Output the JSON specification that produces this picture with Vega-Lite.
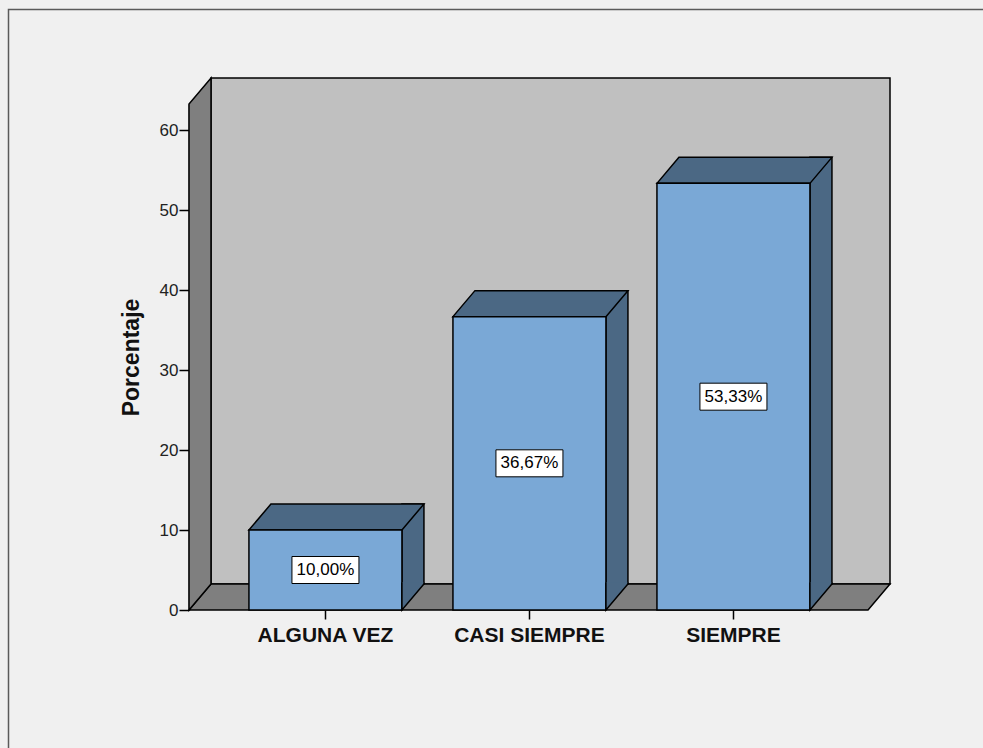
{
  "$schema": "https://vega.github.io/schema/vega-lite/v6.json",
  "width": 679,
  "height": 506,
  "autosize": {"type": "none"},
  "padding": {"left": 189, "top": 104, "right": 115, "bottom": 138},
  "background": "#f0f0f0",
  "config": {"view": {"stroke": null}, "font": "Liberation Sans"},
  "data": {
    "values": [
      {"categoria": "ALGUNA VEZ", "porcentaje": 10.00, "etiqueta": "10,00%"},
      {"categoria": "CASI SIEMPRE", "porcentaje": 36.67, "etiqueta": "36,67%"},
      {"categoria": "SIEMPRE", "porcentaje": 53.33, "etiqueta": "53,33%"}
    ]
  },
  "resolve": {"scale": {"x": "independent", "y": "independent"}},
  "layer": [
    {
      "data": {"values": [{"marco": "marco"}]},
      "encoding": {
        "x": {"datum": 0, "type": "quantitative", "scale": {"domain": [0, 1], "nice": false, "zero": false}, "axis": null},
        "y": {"datum": 0, "type": "quantitative", "scale": {"domain": [0, 63.25], "nice": false}, "axis": null}
      },
      "layer": [
        {
          "mark": {"type": "rect", "filled": false, "stroke": "#5a5a5a", "strokeWidth": 1.5, "xOffset": -180.5, "x2Offset": 300, "yOffset": -94.5, "y2Offset": 300},
          "encoding": {"x2": {"datum": 1}, "y": {"datum": 63.25, "type": "quantitative"}, "y2": {"datum": 0}}
        },
        {
          "mark": {"type": "rect", "fill": "#c0c0c0", "stroke": "#000000", "strokeWidth": 1.5, "xOffset": 22, "x2Offset": 22, "yOffset": -26, "y2Offset": -26},
          "encoding": {"x2": {"datum": 1}, "y": {"datum": 63.25, "type": "quantitative"}, "y2": {"datum": 0}}
        },
        {
          "mark": {"type": "point", "shape": "M0,0 L679,0 L701,-26 L22,-26 Z", "size": 4, "filled": true, "fill": "#7f7f7f", "stroke": "#000000", "strokeWidth": 1.5, "opacity": 1}
        },
        {
          "mark": {"type": "point", "shape": "M0,0 L22,-26 L22,-532 L0,-506 Z", "size": 4, "filled": true, "fill": "#7f7f7f", "stroke": "#000000", "strokeWidth": 1.5, "opacity": 1}
        }
      ]
    },
    {
      "encoding": {
        "x": {
          "field": "categoria", "type": "nominal", "sort": null,
          "scale": {"type": "band", "paddingInner": 0.25, "paddingOuter": 0.2892, "align": 0.508},
          "axis": {"title": null, "domain": false, "ticks": true, "tickColor": "#000000", "tickSize": 9, "tickWidth": 1.5, "labelFontSize": 21, "labelFontWeight": "bold", "labelColor": "#111111", "labelPadding": 5, "labelFont": "Liberation Sans", "labelAngle": 0}
        },
        "y": {
          "field": "porcentaje", "type": "quantitative",
          "scale": {"domain": [0, 63.25], "nice": false},
          "axis": {"values": [0, 10, 20, 30, 40, 50, 60], "title": "Porcentaje", "titleFont": "Liberation Sans", "titleFontSize": 23, "titleFontWeight": "bold", "titleColor": "#111111", "titlePadding": 16, "labelFont": "Liberation Sans", "labelFontSize": 17, "labelColor": "#222222", "labelPadding": 1, "tickSize": 10, "tickColor": "#000000", "tickWidth": 1.5, "domainColor": "#000000", "domainWidth": 1.5, "grid": false}
        }
      },
      "layer": [
        {
          "mark": {"type": "bar", "width": 22, "xOffset": 87.5, "yOffset": -26, "y2Offset": -26, "fill": "#4b6884", "stroke": "#000000", "strokeWidth": 1.5},
          "encoding": {"y2": {"datum": 0}}
        },
        {
          "mark": {"type": "point", "shape": "M-76.5,0 L-54.5,-26 L98.5,-26 L76.5,0 Z", "size": 4, "filled": true, "fill": "#4b6884", "stroke": "#000000", "strokeWidth": 1.5, "opacity": 1}
        },
        {
          "mark": {"type": "bar", "fill": "#7aa8d6", "stroke": "#000000", "strokeWidth": 1.5}
        }
      ]
    },
    {
      "encoding": {
        "x": {"field": "categoria", "type": "nominal", "sort": null, "scale": {"type": "band", "paddingInner": 0.25, "paddingOuter": 0.2892, "align": 0.508}, "axis": null},
        "y": {"field": "porcentaje", "type": "quantitative", "scale": {"domain": [0, 126.5], "nice": false}, "axis": null}
      },
      "layer": [
        {
          "mark": {"type": "point", "shape": "M76.5,-27.5 L76.5,0 L98.5,-26 L98.5,-27.5", "size": 4, "filled": true, "fill": "#4b6884", "stroke": "#000000", "strokeWidth": 1.5, "opacity": 1},
          "encoding": {"y": {"datum": 0, "type": "quantitative", "axis": null}}
        },
        {
          "mark": {"type": "point", "shape": "M-33.5,-13.5 L33.5,-13.5 L33.5,13.5 L-33.5,13.5 Z", "size": 4, "filled": true, "fill": "#ffffff", "stroke": "#000000", "strokeWidth": 1, "opacity": 1}
        },
        {
          "mark": {"type": "text", "fontSize": 17, "color": "#000000", "align": "center", "baseline": "middle", "font": "Liberation Sans"},
          "encoding": {"text": {"field": "etiqueta"}}
        }
      ]
    }
  ]
}
